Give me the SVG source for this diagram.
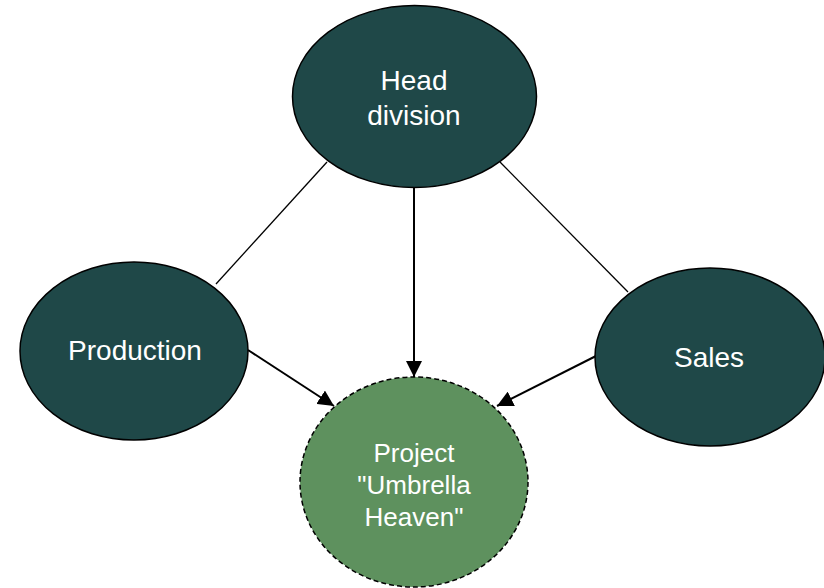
<svg xmlns="http://www.w3.org/2000/svg" width="824" height="588" viewBox="0 0 824 588">
  <style>
    .unit { fill: #1f4848; stroke: #000; stroke-width: 1.5; }
    .project { fill: #5e915e; stroke: #000; stroke-width: 1.5; stroke-dasharray: 5 3; }
    .label { font-family: "Liberation Sans", Arial, sans-serif; fill: #fff; text-anchor: middle; }
    .link { stroke: #000; stroke-width: 1.3; fill: none; }
    .flow { stroke: #000; stroke-width: 2; fill: none; marker-end: url(#arrow); }
  </style>
  <defs>
    <marker id="arrow" viewBox="0 0 10 10" refX="10" refY="5" markerWidth="8" markerHeight="8" orient="auto" markerUnits="strokeWidth">
      <path d="M0,0 L10,5 L0,10 z" fill="#000"/>
    </marker>
  </defs>
  <rect width="824" height="588" fill="#fff"/>

  <g id="connectors">
    <line class="link" x1="327" y1="162" x2="216" y2="284"/>
    <line class="link" x1="500" y1="162" x2="628" y2="292"/>
    <line class="flow" x1="414" y1="188" x2="414" y2="377"/>
    <line class="flow" x1="248" y1="350" x2="334" y2="406"/>
    <line class="flow" x1="596" y1="356" x2="497" y2="406"/>
  </g>

  <g id="head-division">
    <ellipse class="unit" cx="414.5" cy="96.5" rx="122" ry="91"/>
    <text class="label" font-size="28" x="414" y="90">Head</text>
    <text class="label" font-size="28" x="414" y="125">division</text>
  </g>

  <g id="production">
    <ellipse class="unit" cx="134" cy="351" rx="114" ry="89"/>
    <text class="label" font-size="28" x="135" y="360">Production</text>
  </g>

  <g id="sales">
    <ellipse class="unit" cx="710" cy="357" rx="115" ry="89"/>
    <text class="label" font-size="28" x="709" y="367">Sales</text>
  </g>

  <g id="project">
    <ellipse class="project" cx="414" cy="482" rx="114" ry="105"/>
    <text class="label" font-size="26" x="414" y="462">Project</text>
    <text class="label" font-size="26" x="414" y="494">"Umbrella</text>
    <text class="label" font-size="26" x="414" y="526">Heaven"</text>
  </g>
</svg>
